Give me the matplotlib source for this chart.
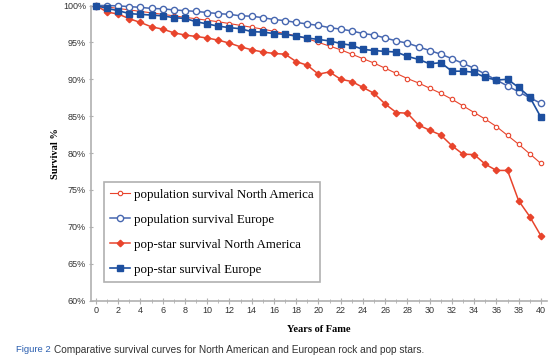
import matplotlib
matplotlib.use("Agg")
import matplotlib.pyplot as plt
from matplotlib.ticker import MultipleLocator, FuncFormatter

# years since fame
years = list(range(0, 41))

# population survival North America (%)
pop_na = [100, 99.8, 99.6, 99.4, 99.2, 99.0, 98.8, 98.6, 98.4, 98.2,
          98.0, 97.8, 97.55, 97.3, 97.05, 96.8, 96.5, 96.2, 95.9, 95.5,
          95.0, 94.5, 94.0, 93.4, 92.8, 92.2, 91.5, 90.8, 90.1, 89.5,
          88.8, 88.1, 87.3, 86.4, 85.5, 84.6, 83.6, 82.4, 81.2, 79.9, 78.6]

# population survival Europe (%)
pop_eu = [100, 100.0, 99.95, 99.85, 99.75, 99.6, 99.55, 99.4, 99.3, 99.2,
          99.05, 98.9, 98.8, 98.6, 98.55, 98.35, 98.1, 97.95, 97.7, 97.5,
          97.3, 97.0, 96.8, 96.55, 96.2, 96.0, 95.6, 95.2, 94.9, 94.4,
          93.9, 93.4, 92.8, 92.15, 91.5, 90.7, 89.9, 89.1, 88.3, 87.5, 86.75]

# pop-star survival North America (%)
star_na = [100, 99.1, 98.85, 98.2, 97.7, 97.1, 96.8, 96.3, 96.0, 95.8,
           95.6, 95.3, 94.9, 94.4, 94.0, 93.7, 93.5, 93.4, 92.4, 91.9,
           90.7, 91.0, 90.0, 89.7, 88.9, 88.1, 86.65, 85.5, 85.4, 83.8,
           83.1, 82.45, 81.0, 79.85, 79.8, 78.5, 77.65, 77.65, 73.55, 71.4, 68.8]

# pop-star survival Europe (%)
star_eu = [100, 99.6, 99.3, 98.9, 98.8, 98.7, 98.6, 98.35, 98.25, 97.8,
           97.5, 97.2, 97.0, 96.85, 96.45, 96.4, 96.2, 96.1, 95.85, 95.6,
           95.4, 95.2, 94.85, 94.6, 94.05, 93.9, 93.78, 93.7, 93.1, 92.7,
           92.1, 92.25, 91.1, 91.1, 90.95, 90.25, 89.9, 90.0, 88.9, 87.6, 84.85]

labels = ["population survival North America", "population survival Europe",
          "pop-star survival North America", "pop-star survival Europe"]

red = "#e8442c"
blue_dark = "#1d4f9f"
blue_open = "#4767b0"
grey = "#b0b0b0"

fig = plt.figure(figsize=(5.5, 3.56), dpi=100)
ax = fig.add_axes([91 / 550, 1 - 300.7 / 356, 456 / 550, 295.2 / 356])

ax.plot(years, pop_na, color=red, lw=0.8, marker="o", ms=3.2,
        mfc="white", mec=red, mew=0.8, label=labels[0], clip_on=False, zorder=3)
ax.plot(years, pop_eu, color=blue_open, lw=1.1, marker="o", ms=4.5,
        mfc="white", mec=blue_open, mew=1.0, label=labels[1], clip_on=False, zorder=4)
ax.plot(years, star_na, color=red, lw=1.1, marker="D", ms=3.3,
        mfc=red, mec=red, label=labels[2], clip_on=False, zorder=5)
ax.plot(years, star_eu, color=blue_dark, lw=1.2, marker="s", ms=4.6,
        mfc=blue_dark, mec=blue_dark, label=labels[3], clip_on=False, zorder=6)

ax.set_xlim(-0.45, 40.55)
ax.set_ylim(60, 100)
ax.xaxis.set_major_locator(MultipleLocator(2))
ax.xaxis.set_minor_locator(MultipleLocator(1))
ax.yaxis.set_major_locator(MultipleLocator(5))
ax.yaxis.set_major_formatter(FuncFormatter(lambda v, p: f"{int(v)}%"))

for s in ["top", "right"]:
    ax.spines[s].set_visible(False)
for s in ["left", "bottom"]:
    ax.spines[s].set_color(grey)
    ax.spines[s].set_linewidth(1.2)

ax.tick_params(axis="both", which="both", color=grey, labelsize=6.5,
               labelcolor="#333333", direction="inout")
ax.tick_params(axis="x", which="major", length=4, pad=2)
ax.tick_params(axis="x", which="minor", length=3)
ax.tick_params(axis="y", which="major", length=3, pad=2)
for t in ax.get_xticklabels() + ax.get_yticklabels():
    t.set_family("Liberation Sans")

ax.set_ylabel("Survival %", family="Liberation Serif", fontweight="bold",
              fontsize=7.5, labelpad=2)
ax.set_xlabel("Years of Fame", family="Liberation Serif", fontweight="bold",
              fontsize=7.5, labelpad=7)

leg = ax.legend(loc="lower left", bbox_to_anchor=(0.0285, 0.063), borderaxespad=0,
                prop={"family": "Liberation Serif", "size": 9.3}, numpoints=1,
                handlelength=1.5, handletextpad=0.3, labelspacing=1.0,
                borderpad=0.5, fancybox=False, framealpha=1)
leg.get_frame().set_edgecolor(grey)
leg.get_frame().set_linewidth(1.2)

fig.text(16 / 550, 1 - 350 / 356, "Figure 2", color="#2b5fb0", fontsize=6.8,
         family="Liberation Sans", va="center")
fig.text(54 / 550, 1 - 350 / 356,
         "Comparative survival curves for North American and European rock and pop stars.",
         color="#333333", fontsize=7.3, family="Liberation Sans", va="center")

fig.savefig("out.png", dpi=100)
